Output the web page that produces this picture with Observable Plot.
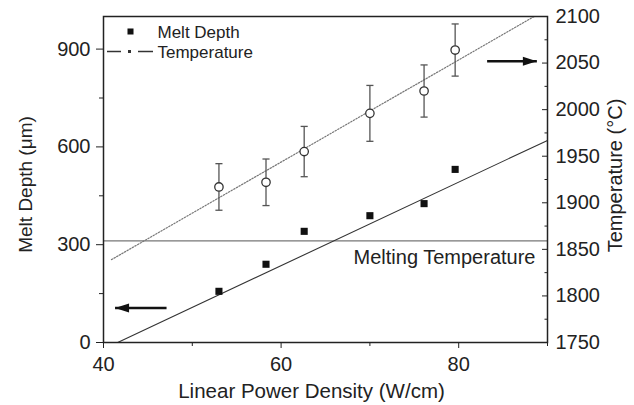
<!DOCTYPE html>
<html><head><meta charset="utf-8">
<script src="https://cdn.jsdelivr.net/npm/d3@7"></script>
<script src="https://cdn.jsdelivr.net/npm/@observablehq/plot@0.6"></script>
<style>body{margin:0;background:#fff}</style>
</head><body><div id="chart"></div>
<script>
// ---- data ----
const power = [53, 58.3, 62.6, 70, 76.1, 79.6];            // W/cm
const meltDepth = [157, 240, 341, 389, 426, 531];          // µm
const temperature = [1917, 1922, 1955, 1996, 2020, 2064];  // °C
const tempError = [25, 25, 27, 30, 28, 28];                // °C
const depthFitX = [41.6, 90];
const depthFitY = [0, 620];
const tempFitX = [40.9, 88.5];
const tempFitY = [1839, 2100];
const meltingTemp = 1859;
const xTicks = [40, 60, 80];
const xMinor = [50, 70, 90];
const depthTicks = [0, 300, 600, 900];
const depthMinor = [150, 450, 750];
const tempTicks = [1750, 1800, 1850, 1900, 1950, 2000, 2050, 2100];
const tempMinor = [1775, 1825, 1875, 1925, 1975, 2025, 2075];
const xDomain = [40, 90];
const depthDomain = [0, 1000];
const tempDomain = [1750, 2100];
const arrowFrom = [47.1, 83.2];
const arrowTo = [41.3, 88.8];
const arrowDepth = [106];
const arrowTemp = [2052];

// map temperature onto the left (depth) scale for the twin axis
const toDepth = t => (t - tempDomain[0]) / (tempDomain[1] - tempDomain[0]) * (depthDomain[1] - depthDomain[0]) + depthDomain[0];
const fromDepth = d => (d - depthDomain[0]) / (depthDomain[1] - depthDomain[0]) * (tempDomain[1] - tempDomain[0]) + tempDomain[0];

const depthPts = power.map((x, i) => ({x, y: meltDepth[i]}));
const tempPts = power.map((x, i) => ({x, t: temperature[i], e: tempError[i]}));
const depthFit = depthFitX.map((x, i) => ({x, y: depthFitY[i]}));
const tempFit = tempFitX.map((x, i) => ({x, t: tempFitY[i]}));
const arrows = [
  {x1: arrowFrom[0], x2: arrowTo[0], y: arrowDepth[0], dir: "left"},
  {x1: arrowFrom[1], x2: arrowTo[1], y: toDepth(arrowTemp[0]), dir: "right"}
];

const headLeft = {draw(ctx) { ctx.moveTo(-7, 0); ctx.lineTo(7, -4.5); ctx.lineTo(7, 4.5); ctx.closePath(); }};
const headRight = {draw(ctx) { ctx.moveTo(7, 0); ctx.lineTo(-7, -4.5); ctx.lineTo(-7, 4.5); ctx.closePath(); }};

const capHalf = 0.4;
const ink = "#222";

const legendLine = (index, scales, values, dims) => {
  const g = d3.create("svg:g").attr("stroke", "#333").attr("stroke-width", 1.5);
  const y = dims.marginTop + 35.5, x0 = dims.marginLeft;
  g.append("line").attr("x1", x0 + 4).attr("x2", x0 + 18).attr("y1", y).attr("y2", y);
  g.append("rect").attr("x", x0 + 25).attr("y", y - 1.5).attr("width", 3).attr("height", 3).attr("fill", "#333").attr("stroke", "none");
  g.append("line").attr("x1", x0 + 35).attr("x2", x0 + 50).attr("y1", y).attr("y2", y);
  return g.node();
};

const chart = Plot.plot({
  width: 634,
  height: 405,
  marginLeft: 103,
  marginRight: 87,
  marginTop: 16,
  marginBottom: 63,
  style: {fontFamily: "'Liberation Sans', Arial, sans-serif", fontSize: "20px", color: ink, background: "white"},
  x: {domain: xDomain},
  y: {domain: depthDomain},
  marks: [
    // melting temperature reference line
    Plot.ruleY([meltingTemp], {y: toDepth, stroke: "#777", strokeWidth: 1.2}),
    Plot.text([meltingTemp], {y: toDepth, text: () => "Melting Temperature", frameAnchor: "right", textAnchor: "end", lineAnchor: "middle", dx: -12, dy: 17, fontSize: 20, fill: ink}),
    // fits
    Plot.line(depthFit, {x: "x", y: "y", stroke: "#333", strokeWidth: 1.1}),
    Plot.line(tempFit, {x: "x", y: d => toDepth(d.t), stroke: "#777", strokeWidth: 1.2, strokeDasharray: "1.4 1.6"}),
    // error bars
    Plot.link(tempPts, {x1: "x", x2: "x", y1: d => toDepth(d.t - d.e), y2: d => toDepth(d.t + d.e), stroke: "#555", strokeWidth: 1.3}),
    Plot.link(tempPts, {x1: d => d.x - capHalf, x2: d => d.x + capHalf, y1: d => toDepth(d.t + d.e), y2: d => toDepth(d.t + d.e), stroke: "#555", strokeWidth: 1.3}),
    Plot.link(tempPts, {x1: d => d.x - capHalf, x2: d => d.x + capHalf, y1: d => toDepth(d.t - d.e), y2: d => toDepth(d.t - d.e), stroke: "#555", strokeWidth: 1.3}),
    Plot.dot(tempPts, {x: "x", y: d => toDepth(d.t), r: 4.2, fill: "white", stroke: "#333", strokeWidth: 1.3}),
    // melt depth
    Plot.dot(depthPts, {x: "x", y: "y", symbol: "square", r: 4, fill: "#111", stroke: "none"}),
    // arrows
    Plot.link(arrows, {x1: "x1", x2: "x2", y1: "y", y2: "y", stroke: "#111", strokeWidth: 2.6}),
    Plot.dot(arrows.filter(d => d.dir === "left"), {x: "x2", y: "y", symbol: headLeft, fill: "#111", stroke: "none", dx: 7}),
    Plot.dot(arrows.filter(d => d.dir === "right"), {x: "x2", y: "y", symbol: headRight, fill: "#111", stroke: "none", dx: -7}),
    // axes
    Plot.axisX({ticks: xTicks, tickSize: 6, tickPadding: 8, label: null, stroke: ink}),
    Plot.axisX({ticks: xMinor, tickSize: 4, tickFormat: () => "", label: null, stroke: ink}),
    Plot.axisY({anchor: "left", ticks: depthTicks, tickSize: 7, tickPadding: 6, label: null, stroke: ink}),
    Plot.axisY({anchor: "left", ticks: depthMinor, tickSize: 4, tickFormat: () => "", label: null, stroke: ink}),
    Plot.axisY({anchor: "right", ticks: tempTicks.map(toDepth), tickFormat: d => String(Math.round(fromDepth(d))), tickSize: -6, tickPadding: 14, label: null, stroke: ink}),
    Plot.axisY({anchor: "right", ticks: tempMinor.map(toDepth), tickFormat: () => "", tickSize: -3.5, label: null, stroke: ink}),
    Plot.frame({stroke: ink, strokeWidth: 1.5}),
    // axis titles
    Plot.text(["Linear Power Density (W/cm)"], {text: d => d, frameAnchor: "bottom", lineAnchor: "middle", textAnchor: "middle", dy: 49, dx: -14, fontSize: 20.5, fill: ink}),
    Plot.text(["Melt Depth (\u03bcm)"], {text: d => d, frameAnchor: "left", lineAnchor: "middle", textAnchor: "middle", dx: -78, dy: 5, rotate: -90, fontSize: 19, fill: ink}),
    Plot.text(["Temperature (\u00b0C)"], {text: d => d, frameAnchor: "right", lineAnchor: "middle", textAnchor: "middle", dx: 68, dy: -4, rotate: -90, fontSize: 20, fill: ink}),
    // legend
    Plot.dot([0], {frameAnchor: "top-left", dx: 27, dy: 15, symbol: "square", r: 3.4, fill: "#111", stroke: "none"}),
    Plot.text(["Melt Depth"], {text: d => d, frameAnchor: "top-left", lineAnchor: "middle", dx: 54, dy: 16, textAnchor: "start", fontSize: 17, fill: ink}),
    legendLine,
    Plot.text(["Temperature"], {text: d => d, frameAnchor: "top-left", lineAnchor: "middle", dx: 54, dy: 36, textAnchor: "start", fontSize: 17, fill: ink})
  ]
});
document.getElementById("chart").append(chart);
</script>
</body></html>
